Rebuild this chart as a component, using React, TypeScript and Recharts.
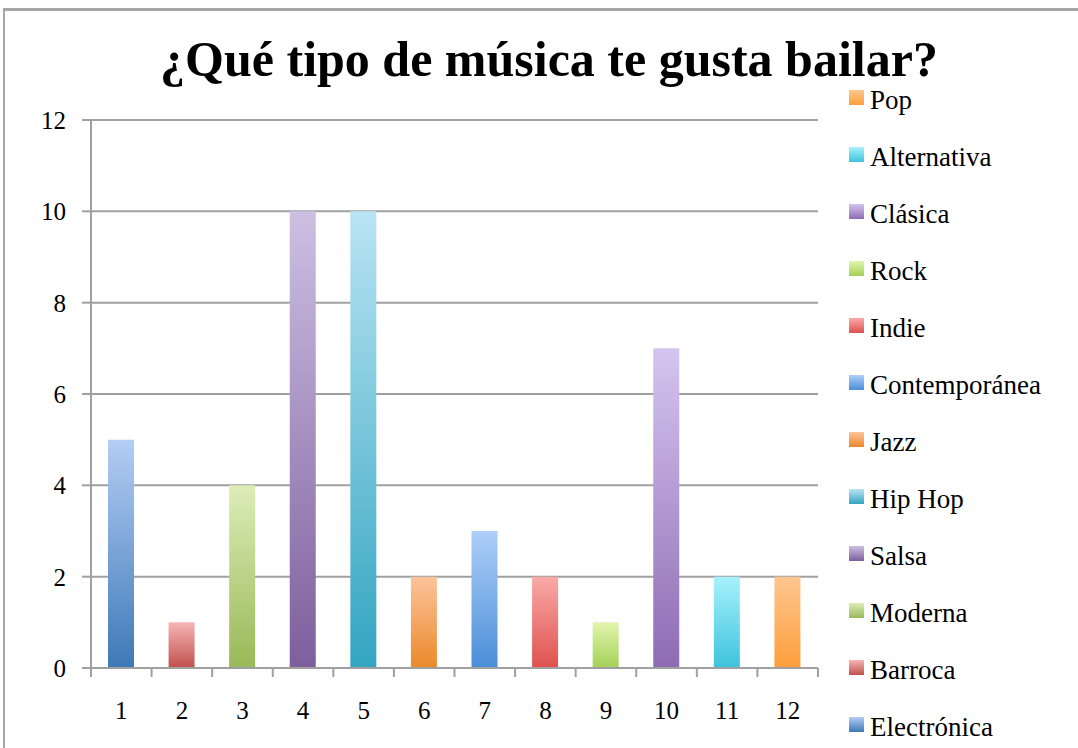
import { BarChart, Bar, XAxis, YAxis, CartesianGrid } from "recharts";

const categories = ["1", "2", "3", "4", "5", "6", "7", "8", "9", "10", "11", "12"];
const genres = ["Electrónica", "Barroca", "Moderna", "Salsa", "Hip Hop", "Jazz", "Contemporánea", "Indie", "Rock", "Clásica", "Alternativa", "Pop"];
const votes = [5, 1, 4, 10, 10, 2, 3, 2, 1, 7, 2, 2];
const yTicks = [0, 2, 4, 6, 8, 10, 12];

// gradient for each genre: light top, darker bottom
const topColors = ["#b4cdf4", "#f5b6b5", "#dcedb7", "#cdbfe2", "#b9e4f3", "#fcc49b", "#aecff8", "#f9aaa8", "#e1f5ad", "#d5c4f0", "#a8f1fc", "#fec690"];
const bottomColors = ["#3d79b7", "#c0504d", "#99b957", "#7d5f9c", "#33a5c1", "#ea892b", "#4a8ed8", "#df514e", "#a4d056", "#8e6bb3", "#3dc3dd", "#fd9e3a"];

const FONT = "'Liberation Serif', serif";
const GRAY = "#a0a0a0";

// one row per category, only its own genre has a value (stacked so bars stay centred)
const data = categories.map((cat, i) => ({ cat, [genres[i]]: votes[i] }));

const LegendList = () => (
    <div style={{ position: "absolute", left: 849, top: 72, fontFamily: FONT, fontSize: 27, color: "#000" }}>
        {[...genres].reverse().map((g) => {
            const i = genres.indexOf(g);
            return (
                <div key={g} style={{ display: "flex", alignItems: "center", height: 57 }}>
                    <span style={{ width: 15, height: 15, marginRight: 6, marginTop: -6, background: `linear-gradient(${topColors[i]}, ${bottomColors[i]})` }} />
                    <span>{g}</span>
                </div>
            );
        })}
    </div>
);

const XTick = (props: any) => {
    const { x, y, payload, index } = props;
    const half = 727 / 12 / 2;
    return (
        <g>
            <line x1={x - half} x2={x - half} y1={668} y2={677} stroke={GRAY} strokeWidth={2} />
            {index === categories.length - 1 && <line x1={x + half} x2={x + half} y1={668} y2={677} stroke={GRAY} strokeWidth={2} />}
            <text x={x} y={y + 43} textAnchor="middle" fontFamily={FONT} fontSize={25} fill="#000">{payload.value}</text>
        </g>
    );
};

export default function App() {
    return (
        <div style={{ position: "absolute", left: 0, top: 0, width: 1078, height: 748, background: "#fff", overflow: "hidden" }}>
            <div style={{ position: "absolute", left: 3, top: 8, width: 1100, height: 800, borderLeft: "2px solid #a6a6a6", borderTop: "3px solid #a6a6a6" }} />
            <div style={{ position: "absolute", left: 0, top: 30, width: 1098, textAlign: "center", fontFamily: FONT, fontWeight: "bold", fontSize: 50, color: "#000" }}>
                ¿Qué tipo de música te gusta bailar?
            </div>
            <div style={{ position: "absolute", left: 0, top: 0 }}>
                <BarChart width={1078} height={748} data={data} margin={{ top: 120, right: 260, bottom: 20, left: 31 }}>
                    <defs>
                        {genres.map((g, i) => (
                            <linearGradient key={g} id={`grad${i}`} x1="0" y1="0" x2="0" y2="1">
                                <stop offset="0%" stopColor={topColors[i]} />
                                <stop offset="100%" stopColor={bottomColors[i]} />
                            </linearGradient>
                        ))}
                    </defs>
                    <CartesianGrid vertical={false} stroke={GRAY} strokeWidth={2} />
                    <XAxis dataKey="cat" height={60} stroke={GRAY} strokeWidth={2} tickLine={false} tick={<XTick />} interval={0} />
                    <YAxis width={60} domain={[0, 12]} ticks={yTicks} stroke={GRAY} strokeWidth={2} tickSize={9} tickMargin={16}
                        tick={{ fontFamily: FONT, fontSize: 25, fill: "#000" }} />
                    {genres.map((g, i) => (
                        <Bar key={g} dataKey={g} stackId="a" barSize={26} fill={`url(#grad${i})`} isAnimationActive={false} />
                    ))}
                </BarChart>
            </div>
            <LegendList />
        </div>
    );
}
